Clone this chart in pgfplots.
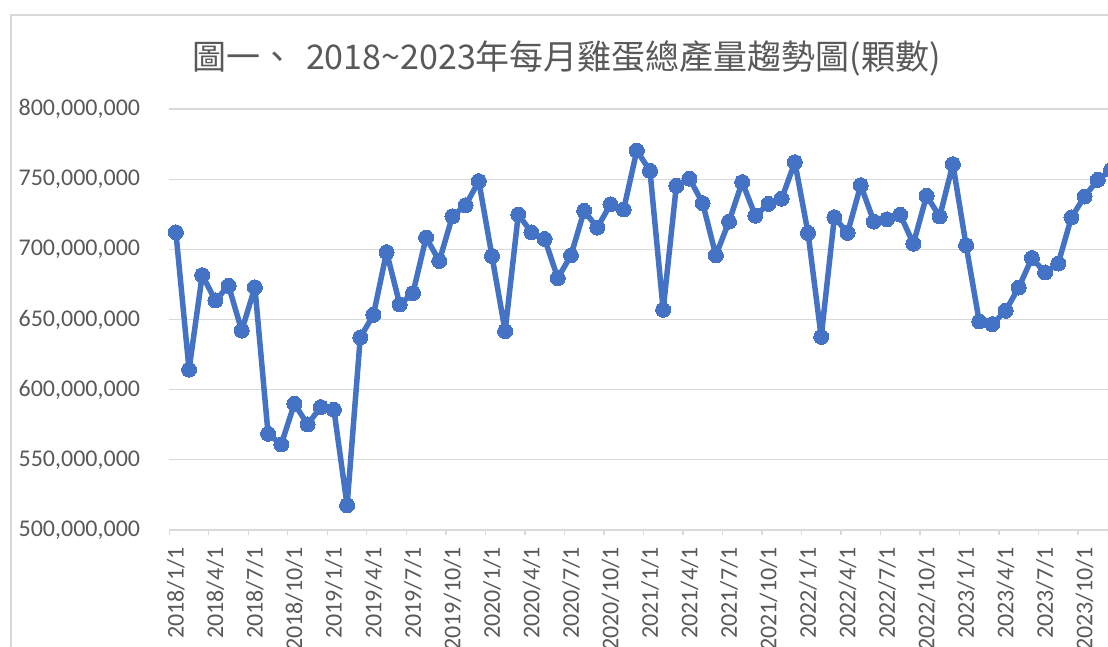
\documentclass[border=0pt]{standalone}
\usepackage{fontspec}
\setmainfont{Carlito}
\newfontfamily\cjk{Noto Sans CJK TC}
\usepackage{pgfplots}
\usepackage{pgfplotstable}
\pgfplotsset{compat=1.18}
\definecolor{lineblue}{HTML}{4472C4}
\definecolor{gridgray}{HTML}{D9D9D9}
\definecolor{textgray}{HTML}{595959}
\pgfplotstableread{
m v
1 712.1
2 614.3
3 681.6
4 663.6
5 674.0
6 642.1
7 672.9
8 568.6
9 561.0
10 590.0
11 575.2
12 587.6
13 585.7
14 517.6
15 637.2
16 653.3
17 698.0
18 660.7
19 668.8
20 708.4
21 691.7
22 723.6
23 731.4
24 748.6
25 695.2
26 641.7
27 724.8
28 712.1
29 707.4
30 679.5
31 695.7
32 727.4
33 715.5
34 732.1
35 728.4
36 770.4
37 755.9
38 656.9
39 745.2
40 750.4
41 732.9
42 695.7
43 719.8
44 747.9
45 724.0
46 732.4
47 736.1
48 762.1
49 711.7
50 637.6
51 722.9
52 711.7
53 745.7
54 719.8
55 721.4
56 724.7
57 704.0
58 738.1
59 723.4
60 760.7
61 702.9
62 648.6
63 646.7
64 656.2
65 672.8
66 693.8
67 683.5
68 689.9
69 722.8
70 737.6
71 749.5
72 756.5
}\eggdata

\begin{document}
\begin{tikzpicture}
\path[use as bounding box] (0,0) rectangle (1108pt,647pt);
\clip (0,0) rectangle (1108pt,647pt);
\draw[gridgray, line width=1.3pt] (11pt,-5pt) -- (11pt,632pt) -- (1120pt,632pt);
\node[text=textgray, font=\cjk\fontsize{34}{40}\selectfont] at (566.5pt,589pt) {圖一、\hspace{0.35em}2018\textasciitilde 2023年每月雞蛋總產量趨勢圖(顆數)};
\begin{axis}[
 at={(169.3pt,117pt)}, anchor=south west,
 scale only axis, width=948.2pt, height=421pt,
 xmin=0.5, xmax=72.5, ymin=500, ymax=800,
 axis x line*=bottom, axis y line*=left,
 x axis line style={gridgray, line width=1.3pt, -},
 y axis line style={draw=none, -},
 ytick={500,550,600,650,700,750,800},
 yticklabels={{500,000,000},{550,000,000},{600,000,000},{650,000,000},{700,000,000},{750,000,000},{800,000,000}},
 ymajorgrids, grid style={gridgray, line width=1.3pt},
 xtick={1,4,...,70},
 xticklabels={2018/1/1,2018/4/1,2018/7/1,2018/10/1,2019/1/1,2019/4/1,2019/7/1,2019/10/1,2020/1/1,2020/4/1,2020/7/1,2020/10/1,2021/1/1,2021/4/1,2021/7/1,2021/10/1,2022/1/1,2022/4/1,2022/7/1,2022/10/1,2023/1/1,2023/4/1,2023/7/1,2023/10/1},
 minor xtick={0.5,3.5,...,72.5},
 major tick length=0pt, minor tick length=5pt, tick align=outside,
 minor tick style={gridgray, line width=1.3pt},
 ticklabel style={text=textgray, font=\fontsize{24}{28}\selectfont, inner sep=0pt},
 xticklabel style={rotate=90, anchor=east},
 yticklabel style={anchor=east},
 xticklabel shift=17pt, yticklabel shift=29pt,
 clip=false,
]
\addplot[lineblue, line width=5.5pt, line join=round, mark=*, mark size=7.5pt, mark options={fill=lineblue, draw=lineblue, line width=0pt}] table[x=m,y=v]{\eggdata};
\end{axis}
\end{tikzpicture}
\end{document}
